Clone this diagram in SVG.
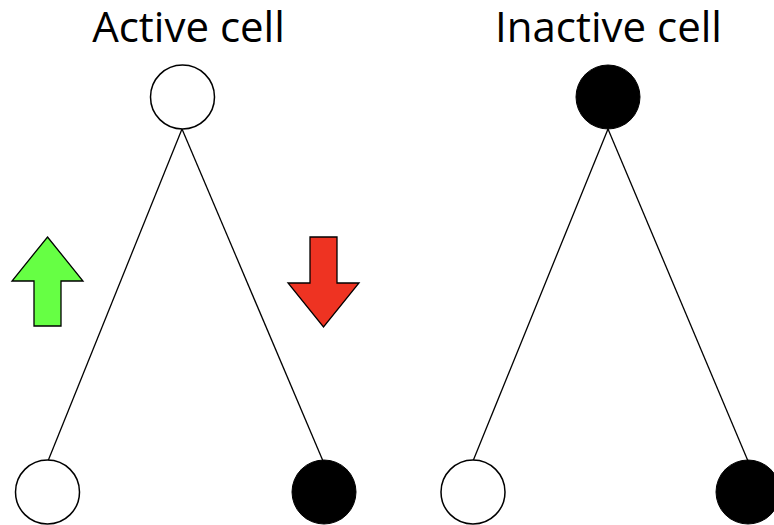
<svg xmlns="http://www.w3.org/2000/svg" width="774" height="525" viewBox="0 0 774 525">
  <style>
    .title { font-family: "Open Sans", "Noto Sans", sans-serif; font-size: 42px; fill: #000; text-anchor: middle; }
    .edge { stroke: #000; stroke-width: 1.3; fill: none; }
    .on { fill: #fff; stroke: #000; stroke-width: 1.5; }
    .off { fill: #000; stroke: #000; stroke-width: 1; }
    .arrow { stroke: #000; stroke-width: 1.3; stroke-linejoin: miter; }
  </style>
  <rect width="774" height="525" fill="#fff"/>

  <text class="title" x="188.5" y="42">Active cell</text>
  <text class="title" x="608.5" y="42">Inactive cell</text>

  <g id="connectors">
    <line class="edge" x1="182" y1="129" x2="48" y2="461"/>
    <line class="edge" x1="182" y1="129" x2="323" y2="461"/>
    <line class="edge" x1="608" y1="129" x2="473" y2="461"/>
    <line class="edge" x1="608" y1="129" x2="748" y2="461"/>
  </g>

  <g id="active-root"><circle class="on" cx="182.5" cy="97" r="32"/></g>
  <g id="active-left"><circle class="on" cx="47.5" cy="492" r="32"/></g>
  <g id="active-right"><circle class="off" cx="324" cy="492" r="32"/></g>

  <g id="inactive-root"><circle class="off" cx="608" cy="97" r="32"/></g>
  <g id="inactive-left"><circle class="on" cx="473" cy="492" r="32"/></g>
  <g id="inactive-right"><circle class="off" cx="748" cy="492" r="32"/></g>

  <g id="up-arrow">
    <polygon class="arrow" fill="#66ff44" points="47.5,237 83,281 61,281 61,326 34,326 34,281 12,281"/>
  </g>
  <g id="down-arrow">
    <polygon class="arrow" fill="#ee3322" points="310,237 337,237 337,283 359,283 323.5,327 288,283 310,283"/>
  </g>
</svg>
